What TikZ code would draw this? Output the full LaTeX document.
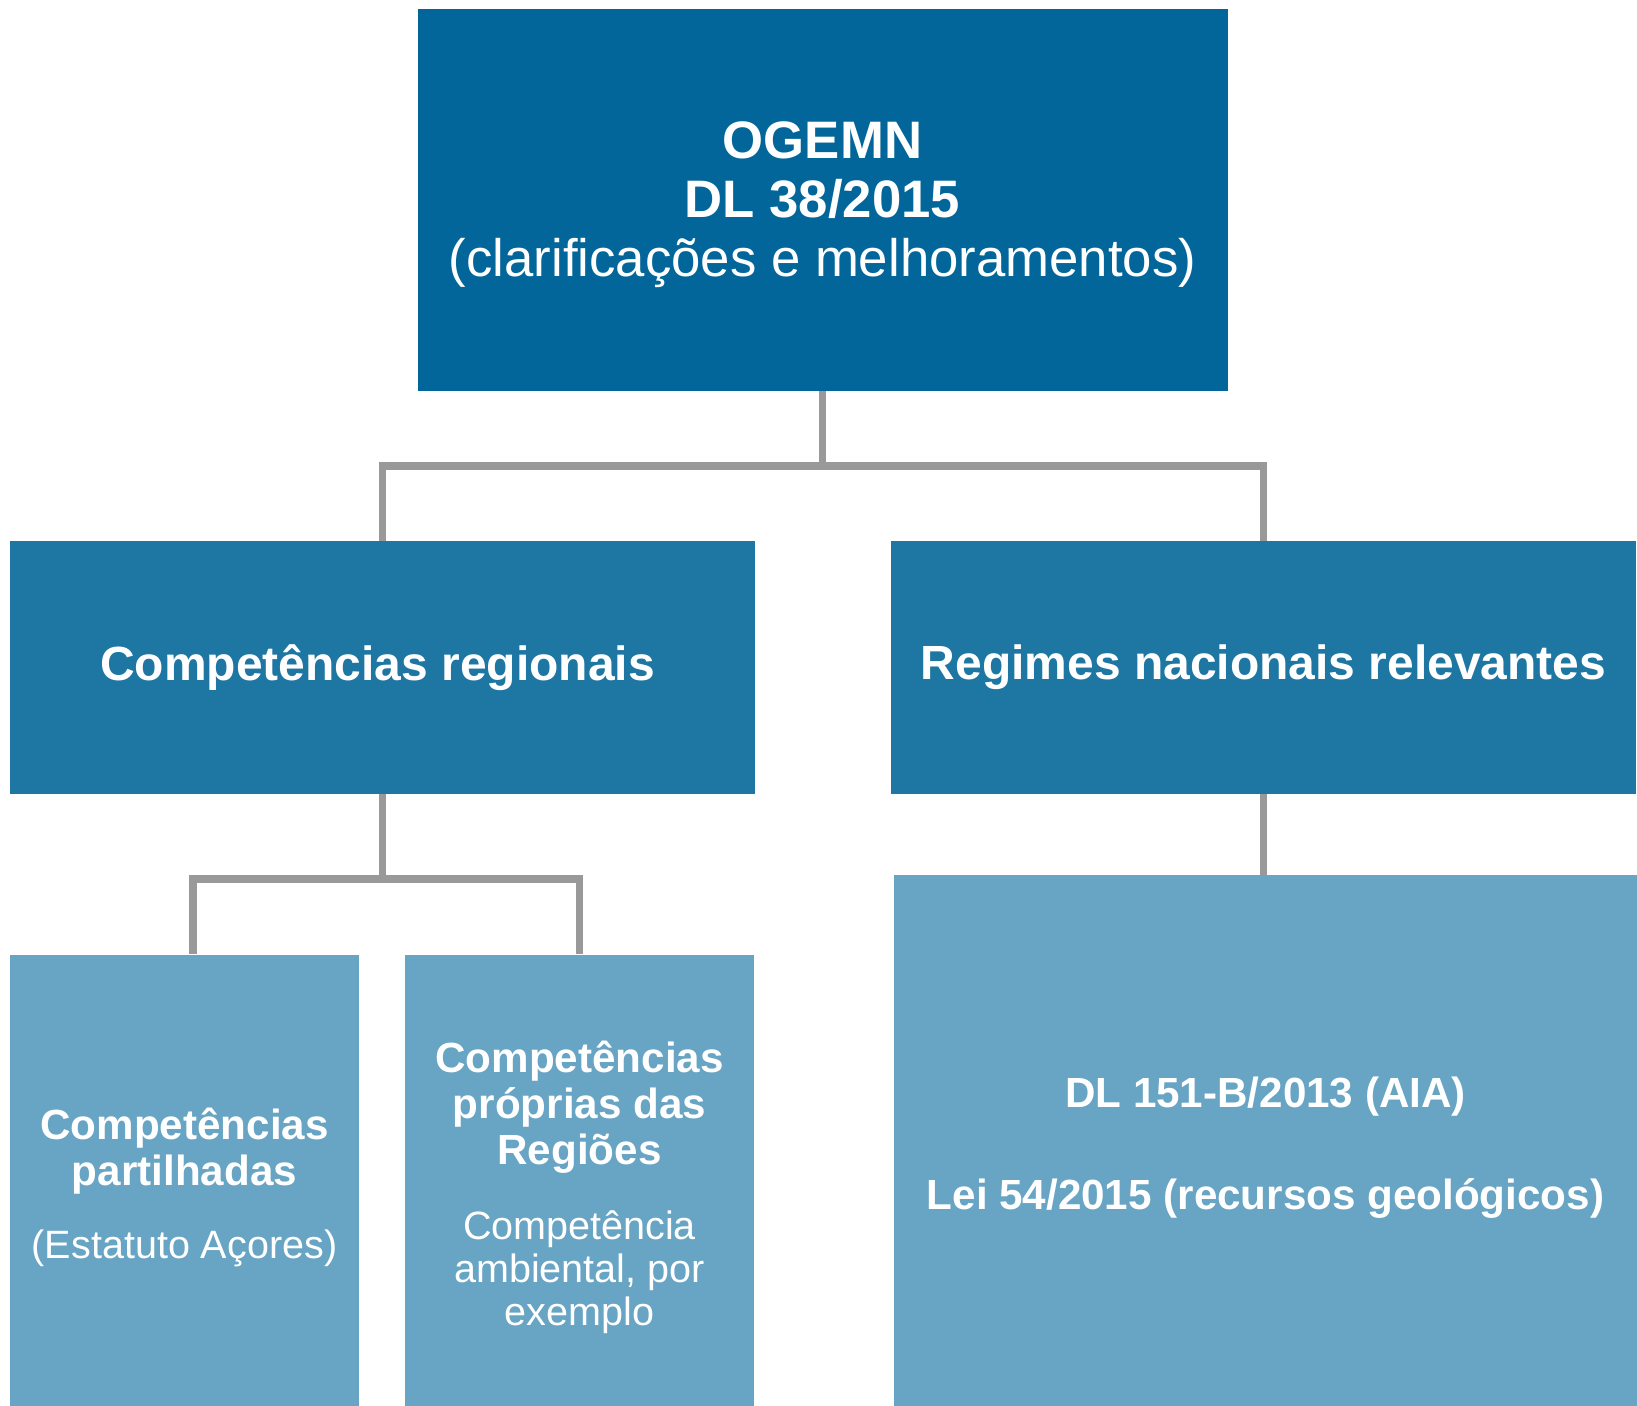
\documentclass[tikz,border=0pt]{standalone}
\usepackage{fontspec}
\setmainfont{Liberation Sans}

\definecolor{topblue}{RGB}{3,102,154}
\definecolor{midblue}{RGB}{30,118,163}
\definecolor{lowblue}{RGB}{104,164,195}
\definecolor{linkgray}{RGB}{153,153,153}

\tikzset{
    box/.style={shape=rectangle,text=white,align=center,inner sep=0pt},
    topbox/.style={box,fill=topblue,minimum width=16.2cm,minimum height=7.63cm,
        font=\fontsize{30}{33.6}\selectfont},
    midbox/.style={box,fill=midblue,minimum width=14.9cm,minimum height=5.06cm,
        font=\fontsize{27.3}{31}\selectfont\bfseries},
    lowbox/.style={box,fill=lowblue,minimum width=6.97cm,minimum height=9.31cm,
        font=\fontsize{24}{26.2}\selectfont\bfseries},
    link/.style={draw=linkgray,line width=4.5pt}
}

\begin{document}
\begin{tikzpicture}
    \useasboundingbox (0,0) rectangle (32.74,-28.1);
    \node[topbox] (OGEMN) at (16.45,-4.00) {\rule{0pt}{0.91cm}\textbf{OGEMN}\\\textbf{DL 38/2015}\\(clarificações e melhoramentos)};
    \node[midbox] (REG) at (7.65,-13.35) {Competências regionais\hspace*{0.2cm}};
    \node[midbox] (NAC) at (25.27,-13.35) {\raisebox{0.14cm}{Regimes nacionais relevantes}};
    \node[lowbox] (PART) at (3.69,-23.75) {Competências\\partilhadas\\[0.54cm]{\mdseries\fontsize{22.5}{26}\selectfont(Estatuto Açores)}};
    \node[lowbox] (PROP) at (11.59,-23.75) {Competências\\próprias das\\Regiões\\[0.57cm]{\mdseries\fontsize{22.5}{26}\selectfont Competência}\\[-1.5pt]{\mdseries\fontsize{22.5}{26}\selectfont ambiental, por}\\[-1.5pt]{\mdseries\fontsize{22.5}{26}\selectfont exemplo}};
    \node[lowbox,minimum width=14.87cm,minimum height=10.9cm] (LEIS) at (25.31,-22.95) {DL 151-B/2013 (AIA)\\[1.12cm]Lei 54/2015 (recursos geológicos)};
    \coordinate (J1) at (16.45,-9.32);
    \coordinate (J2) at (7.65,-17.58);
    \draw[link] (OGEMN.south) -- (J1);
    \draw[link] (J1) -| (REG.north);
    \draw[link] (J1) -| (NAC.north);
    \draw[link] (REG.south) -- (J2);
    \draw[link] (J2) -| ([xshift=0.17cm]PART.north);
    \draw[link] (J2) -| (PROP.north);
    \draw[link] (NAC.south) -- (NAC.south |- LEIS.north);
\end{tikzpicture}
\end{document}
